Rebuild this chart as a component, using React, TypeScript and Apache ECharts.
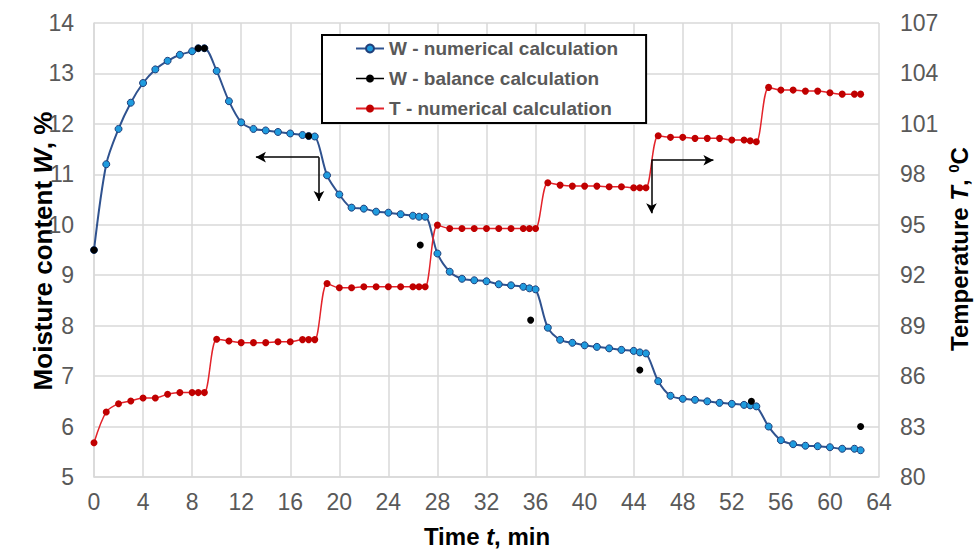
import React, { useEffect, useRef } from "react";
import * as echarts from "echarts";

// Time points (min) shared by the numerical series
const timeNum: number[] = [
  0, 1, 2, 3, 4, 5, 6, 7, 8, 8.5, 9, 10, 11, 12, 13, 14, 15, 16, 17, 17.5, 18,
  19, 20, 21, 22, 23, 24, 25, 26, 26.5, 27, 28, 29, 30, 31, 32, 33, 34, 35, 35.5, 36,
  37, 38, 39, 40, 41, 42, 43, 44, 44.5, 45, 46, 47, 48, 49, 50, 51, 52, 53, 53.5, 54,
  55, 56, 57, 58, 59, 60, 61, 62, 62.5,
];

// W - numerical calculation (%)
const wNumerical: number[] = [
  9.5, 11.2, 11.9, 12.42, 12.81, 13.08, 13.25, 13.37, 13.44, 13.5, 13.5, 13.05, 12.45, 12.03,
  11.9, 11.87, 11.84, 11.81, 11.78, 11.76, 11.75,
  10.98, 10.6, 10.34, 10.32, 10.26, 10.24, 10.21, 10.18, 10.16, 10.16,
  9.43, 9.07, 8.93, 8.9, 8.88, 8.82, 8.8, 8.77, 8.74, 8.72,
  7.96, 7.72, 7.66, 7.61, 7.58, 7.55, 7.52, 7.5, 7.47, 7.45,
  6.9, 6.61, 6.55, 6.53, 6.5, 6.47, 6.45, 6.43, 6.42, 6.4,
  6.0, 5.73, 5.65, 5.62, 5.61, 5.59, 5.56, 5.56, 5.53,
];

// T - numerical calculation (°C)
const tNumerical: number[] = [
  82.04, 83.87, 84.36, 84.52, 84.7, 84.7, 84.92, 85.02, 85.02, 85.02, 85.02, 88.19, 88.09, 87.99,
  87.99, 87.99, 88.04, 88.04, 88.17, 88.17, 88.17,
  91.51, 91.25, 91.25, 91.31, 91.31, 91.31, 91.31, 91.31, 91.31, 91.31,
  94.98, 94.78, 94.78, 94.78, 94.78, 94.78, 94.78, 94.78, 94.78, 94.78,
  97.5, 97.36, 97.3, 97.3, 97.3, 97.26, 97.26, 97.2, 97.2, 97.2,
  100.29, 100.2, 100.2, 100.14, 100.14, 100.14, 100.04, 100.04, 100.0, 99.94,
  103.17, 103.01, 103.01, 102.95, 102.95, 102.85, 102.77, 102.77, 102.77,
];

// W - balance calculation
const timeBalance: number[] = [0, 8.5, 9, 17.5, 26.6, 35.6, 44.5, 53.6, 62.5];
const wBalance: number[] = [9.5, 13.5, 13.5, 11.76, 9.6, 8.11, 7.12, 6.5, 6.0];

// Arrow annotations [fromT, fromW, toT, toW] in W-axis coordinates
const arrows: number[][] = [
  [18.34, 11.34, 13.2, 11.34],
  [18.34, 11.34, 18.34, 10.47],
  [45.45, 11.28, 50.5, 11.28],
  [45.45, 11.28, 45.45, 10.23],
];

const xTicks = { min: 0, max: 64, interval: 4 };
const wTicks = { min: 5, max: 14, interval: 1 };
const tRange = { min: 80, max: 107 };

const FONT = "'Liberation Sans', Arial, sans-serif";
const GRID_COLOR = "#D9D9D9";
const LABEL_COLOR = "#595959";

function richFor(size: number) {
  return {
    i: { fontStyle: "italic", fontWeight: "bold", fontSize: size, fontFamily: FONT, fill: "#000" },
    sup: { fontWeight: "bold", fontSize: Math.round(size * 0.62), fontFamily: FONT, fill: "#000", padding: [0, 0, 12, 0] },
    n: { fontWeight: "bold", fontSize: size, fontFamily: FONT, fill: "#000" },
  };
}

export default function App() {
  const ref = useRef<HTMLDivElement>(null);

  useEffect(() => {
    if (!ref.current) return;
    const chart = echarts.init(ref.current, undefined, { renderer: "svg" });

    const wData = timeNum.map((t, i) => [t, wNumerical[i]]);
    const tData = timeNum.map((t, i) => [t, tNumerical[i]]);
    const bData = timeBalance.map((t, i) => [t, wBalance[i]]);

    chart.setOption({
      animation: false,
      backgroundColor: "#fff",
      textStyle: { fontFamily: FONT },
      grid: { left: 94, right: 99, top: 23, bottom: 73, containLabel: false },
      legend: {
        orient: "vertical",
        left: 322,
        top: 35,
        backgroundColor: "#fff",
        borderColor: "#000",
        borderWidth: 2,
        borderRadius: 0,
        padding: [4, 28, 5, 33],
        itemGap: 11,
        itemWidth: 28,
        itemHeight: 10,
        textStyle: { fontSize: 19, fontWeight: "bold", color: LABEL_COLOR, fontFamily: FONT },
        data: [
          { name: "W - numerical calculation" },
          {
            name: "W - balance calculation",
            lineStyle: { color: "#000", width: 1.5, opacity: 1 },
          },
          { name: "T - numerical calculation" },
        ],
      },
      xAxis: {
        type: "value",
        min: xTicks.min,
        max: xTicks.max,
        interval: xTicks.interval,
        axisLine: { show: true, lineStyle: { color: GRID_COLOR, width: 1.5 } },
        axisTick: { show: false },
        splitLine: { show: true, lineStyle: { color: GRID_COLOR, width: 1.5 } },
        axisLabel: { fontSize: 23, color: LABEL_COLOR, margin: 13, fontFamily: FONT },
      },
      yAxis: [
        {
          type: "value",
          min: wTicks.min,
          max: wTicks.max,
          interval: wTicks.interval,
          axisLine: { show: true, lineStyle: { color: GRID_COLOR, width: 1.5 } },
          axisTick: { show: false },
          splitLine: { show: true, lineStyle: { color: GRID_COLOR, width: 1.5 } },
          axisLabel: { fontSize: 23, color: LABEL_COLOR, margin: 20, fontFamily: FONT },
        },
        {
          type: "value",
          position: "right",
          min: tRange.min,
          max: tRange.max,
          alignTicks: true,
          axisLine: { show: false },
          axisTick: { show: false },
          splitLine: { show: false },
          axisLabel: { fontSize: 23, color: LABEL_COLOR, margin: 21, fontFamily: FONT },
        },
      ],
      series: [
        {
          name: "W - numerical calculation",
          type: "line",
          yAxisIndex: 0,
          data: wData,
          smooth: 0.3,
          symbol: "circle",
          symbolSize: 7,
          lineStyle: { color: "#2F528F", width: 2 },
          itemStyle: { color: "#1F9BDE", borderColor: "#1F3F7A", borderWidth: 1 },
          z: 3,
          markLine: {
            silent: true,
            symbol: ["none", "arrow"],
            symbolSize: [8, 10],
            label: { show: false },
            lineStyle: { color: "#000", width: 1.5, type: "solid" },
            data: arrows.map((a) => [{ coord: [a[0], a[1]] }, { coord: [a[2], a[3]] }]),
          },
        },
        {
          name: "W - balance calculation",
          type: "line",
          yAxisIndex: 0,
          data: bData,
          symbol: "circle",
          symbolSize: 7,
          lineStyle: { color: "#000", width: 0, opacity: 0 },
          itemStyle: { color: "#000" },
          z: 5,
        },
        {
          name: "T - numerical calculation",
          type: "line",
          yAxisIndex: 1,
          data: tData,
          smooth: 0.3,
          symbol: "circle",
          symbolSize: 7,
          lineStyle: { color: "#E3232A", width: 1.5 },
          itemStyle: { color: "#C00000" },
          z: 4,
        },
      ],
      graphic: [
        {
          type: "text",
          x: 43,
          y: 251,
          rotation: Math.PI / 2,
          style: {
            text: "{n|Moisture content }{i|W}{n|, %}",
            rich: richFor(26),
            align: "center",
            verticalAlign: "middle",
            fill: "#000",
          },
        },
        {
          type: "text",
          x: 959,
          y: 249,
          rotation: Math.PI / 2,
          style: {
            text: "{n|Temperature }{i|T}{n|, }{sup|0}{n|C}",
            rich: richFor(24),
            align: "center",
            verticalAlign: "middle",
            fill: "#000",
          },
        },
        {
          type: "text",
          x: 487,
          y: 536,
          style: {
            text: "{n|Time }{i|t}{n|, min}",
            rich: richFor(24),
            align: "center",
            verticalAlign: "middle",
            fill: "#000",
          },
        },
      ],
    });

    return () => chart.dispose();
  }, []);

  return <div ref={ref} style={{ width: 978, height: 550, position: "absolute", left: 0, top: 0 }} />;
}
